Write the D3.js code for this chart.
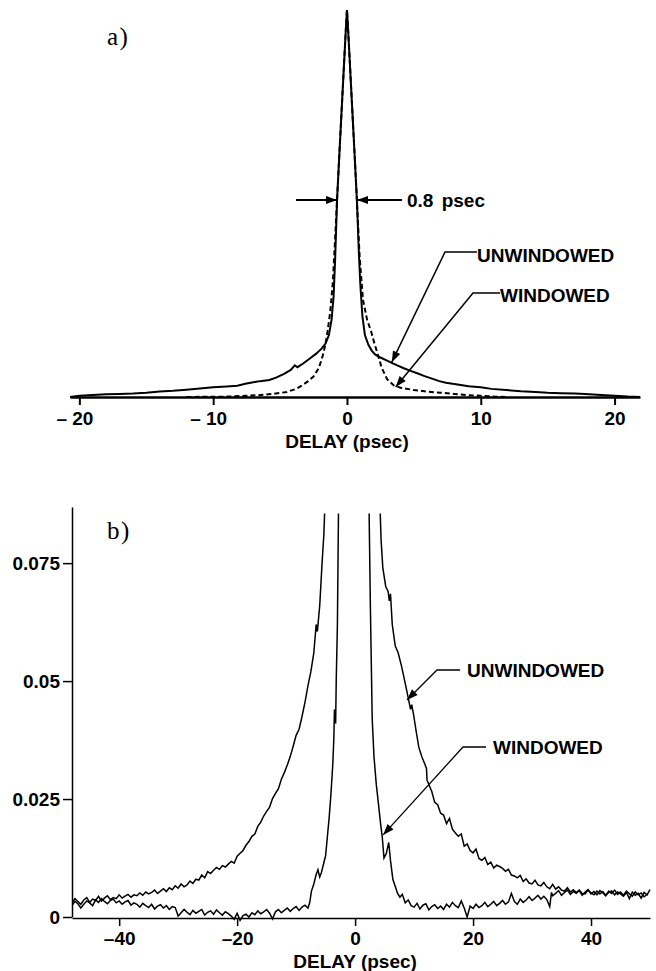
<!DOCTYPE html>
<html>
<head>
<meta charset="utf-8">
<script src="https://cdn.jsdelivr.net/npm/d3@7"></script>
<style>
  body { margin: 0; background: #fff; }
  text { font-family: "Liberation Sans", Arial, sans-serif; font-weight: bold; fill: #000; }
  .panel-label { font-family: "Liberation Serif", "Times New Roman", serif; font-weight: normal; font-size: 25px; letter-spacing: 1.5px; }
</style>
</head>
<body>
<div id="chart"></div>
<script>
// ---- panel a) : normalised correlation vs delay (psec)
const topUnwX = [-20.7, -20, -19, -18, -17, -16, -15, -14, -13, -12, -11, -10, -9, -8.2, -7.6, -7.2, -6.5, -5.8, -5.3, -4.7, -4.2, -3.9, -3.7, -3.3, -2.8, -2.3, -1.9, -1.6, -1.35, -1.15, -1.0, -0.88, -0.74, -0.55, -0.4, -0.25, -0.1, 0,
  0.1, 0.25, 0.4, 0.55, 0.74, 0.88, 1.0, 1.15, 1.34, 1.6, 1.85, 2.1, 2.5, 3.0, 3.3, 3.8, 4.2, 4.7, 5.2, 5.8, 6.3, 6.9, 7.4, 7.9, 8.5, 9.1, 10, 10.8, 11.9, 13, 14.1, 15, 16, 17, 17.8, 19, 20, 21, 21.9];
const topUnwY = [0, 0.003, 0.005, 0.007, 0.008, 0.009, 0.011, 0.014, 0.016, 0.019, 0.022, 0.025, 0.027, 0.029, 0.034, 0.037, 0.041, 0.044, 0.050, 0.060, 0.070, 0.082, 0.077, 0.086, 0.099, 0.112, 0.125, 0.138, 0.16, 0.2, 0.26, 0.36, 0.51, 0.64, 0.74, 0.84, 0.94, 1,
  0.94, 0.84, 0.74, 0.64, 0.51, 0.38, 0.29, 0.21, 0.16, 0.135, 0.12, 0.11, 0.102, 0.094, 0.089, 0.081, 0.075, 0.068, 0.062, 0.054, 0.048, 0.041, 0.037, 0.034, 0.031, 0.028, 0.025, 0.021, 0.018, 0.015, 0.013, 0.011, 0.010, 0.009, 0.008, 0.005, 0.003, 0.001, 0];

const topWinX = [-12, -9, -7.5, -6.5, -5.5, -4.5, -3.8, -3.3, -2.9, -2.5, -2.1, -1.8, -1.6, -1.45, -1.25, -1.05, -0.9, -0.74, -0.55, -0.4, -0.25, -0.1, 0,
  0.1, 0.25, 0.4, 0.55, 0.74, 0.95, 1.2, 1.5, 1.8, 2.0, 2.3, 2.6, 3.0, 3.5, 4.0, 5.0, 6.0, 7.0, 8.0, 9.0, 10, 11, 12];
const topWinY = [0, 0.001, 0.003, 0.005, 0.008, 0.013, 0.021, 0.031, 0.041, 0.053, 0.075, 0.108, 0.138, 0.17, 0.22, 0.30, 0.40, 0.51, 0.64, 0.74, 0.84, 0.94, 1,
  0.94, 0.84, 0.74, 0.64, 0.51, 0.36, 0.25, 0.2, 0.17, 0.145, 0.11, 0.075, 0.046, 0.03, 0.024, 0.018, 0.014, 0.011, 0.008, 0.005, 0.003, 0.001, 0];

const topTicks = [-20, -10, 0, 10, 20];
const topTickLabels = ["\u2013 20", "\u2013 10", "0", "10", "20"];

// ---- panel b) : enlarged wings
const botUnwX = [-48, -47.5, -47, -46.5, -46, -45.5, -45, -44.5, -44, -43.5, -43, -42.5, -42, -41.5, -41, -40.5, -40, -39.5, -39, -38.5, -38, -37.5, -37, -36.5, -36, -35.5, -35, -34.5, -34, -33.5, -33, -32.5, -32, -31.5, -31, -30.5, -30, -29.5, -29, -28.5, -28, -27.5, -27, -26.5, -26, -25.5, -25, -24.5, -24, -23.5, -23, -22.5, -22, -21.5, -21, -20.5, -20, -19.5, -19, -18.5, -18, -17.5, -17, -16.5, -16, -15.5, -15, -14.5, -14, -13.5, -13, -12.5, -12, -11.5, -11, -10.5, -10, -9.5, -9, -8.5, -8, -7.5, -7, -6.6, -6.4, -6, -5.6, -5.3, -5.1,
  4.2, 4.4, 4.7, 5.2, 5.6, 5.8, 6.0, 6.3, 6.8, 7.3, 7.9, 8.5, 9.0, 9.4, 9.6, 9.9, 10.4, 10.8, 11.3, 11.8, 12.1, 12.2, 12.6, 13, 13.5, 14, 14.5, 15, 15.5, 16, 16.5, 17, 17.5, 18, 18.5, 19, 19.5, 20, 20.5, 21, 21.5, 22, 22.5, 23, 23.5, 24, 24.5, 25, 25.5, 26, 26.5, 27, 27.5, 28, 28.5, 29, 29.5, 30, 30.5, 31, 31.5, 32, 32.5, 33, 33.5, 34, 34.5, 35, 35.5, 36, 36.5, 37, 37.5, 38, 38.5, 39, 39.5, 40, 40.5, 41, 41.5, 42, 42.5, 43, 43.5, 44, 44.5, 45, 45.5, 46, 46.5, 47, 47.5, 48, 48.5, 49, 49.5, 50];
const botUnwY = [0.0030, 0.0039, 0.0033, 0.0027, 0.0036, 0.0041, 0.0031, 0.0038, 0.0035, 0.0044, 0.0034, 0.0040, 0.0045, 0.0037, 0.0041, 0.0039, 0.0047, 0.0040, 0.0044, 0.0048, 0.0042, 0.0047, 0.0045, 0.0051, 0.0046, 0.0053, 0.0049, 0.0052, 0.0057, 0.0050, 0.0055, 0.0060, 0.0054, 0.0062, 0.0058, 0.0066, 0.0061, 0.0070, 0.0064, 0.0068, 0.0076, 0.0071, 0.0080, 0.0078, 0.0089, 0.0083, 0.0096, 0.0092, 0.0099, 0.0105, 0.0101, 0.0109, 0.0106, 0.0112, 0.0118, 0.0114, 0.0129, 0.0135, 0.0141, 0.0152, 0.0160, 0.0171, 0.0176, 0.0192, 0.0201, 0.0214, 0.0224, 0.0233, 0.0251, 0.0262, 0.0272, 0.0292, 0.0306, 0.0322, 0.0340, 0.0362, 0.0385, 0.0398, 0.0425, 0.0455, 0.0490, 0.0520, 0.0560, 0.0620, 0.0605, 0.0660, 0.0750, 0.0810, 0.0880,
  0.0880, 0.0800, 0.0740, 0.0700, 0.0690, 0.0670, 0.0685, 0.0620, 0.0575, 0.0560, 0.0530, 0.0495, 0.0465, 0.0440, 0.0450, 0.0430, 0.0390, 0.0360, 0.0340, 0.0325, 0.0315, 0.0290, 0.0278, 0.0266, 0.0243, 0.0238, 0.0220, 0.0216, 0.0198, 0.0209, 0.0186, 0.0178, 0.0171, 0.0176, 0.0150, 0.0155, 0.0141, 0.0136, 0.0144, 0.0124, 0.0120, 0.0126, 0.0111, 0.0116, 0.0104, 0.0110, 0.0107, 0.0103, 0.0097, 0.0101, 0.0089, 0.0087, 0.0083, 0.0088, 0.0075, 0.0081, 0.0072, 0.0070, 0.0078, 0.0068, 0.0066, 0.0073, 0.0064, 0.0060, 0.0069, 0.0059, 0.0064, 0.0057, 0.0055, 0.0062, 0.0053, 0.0058, 0.0052, 0.0057, 0.0050, 0.0049, 0.0057, 0.0051, 0.0047, 0.0055, 0.0049, 0.0054, 0.0046, 0.0052, 0.0055, 0.0047, 0.0053, 0.0049, 0.0044, 0.0052, 0.0039, 0.0053, 0.0046, 0.0050, 0.0040, 0.0052, 0.0047, 0.0058];

const botWinX = [-48, -47.5, -47, -46.5, -46, -45.5, -45, -44.5, -44, -43.5, -43, -42.5, -42, -41.5, -41, -40.5, -40, -39.5, -39, -38.5, -38, -37.5, -37, -36.5, -36, -35.5, -35, -34.5, -34, -33.5, -33, -32.5, -32, -31.5, -31, -30.5, -30, -29.5, -29, -28.5, -28, -27.5, -27, -26.5, -26, -25.5, -25, -24.5, -24, -23.5, -23, -22.5, -22, -21.5, -21, -20.5, -20, -19.5, -19, -18.5, -18, -17.5, -17, -16.5, -16, -15.5, -15, -14.5, -14, -13.5, -13, -12.5, -12, -11.5, -11, -10.5, -10, -9.5, -9, -8.5, -8, -7.7, -7.4, -7.0, -6.6, -6.3, -6.0, -5.7, -5.3, -5.0, -4.7, -4.4, -4.1, -3.8, -3.6, -3.5, -3.4, -3.3, -3.2, -3.0, -2.9, -2.8,
  2.35, 2.6, 2.9, 3.2, 3.6, 4.0, 4.3, 4.6, 4.9, 5.3, 5.7, 6.0, 6.4, 6.8, 7.2, 7.6, 8.0, 8.5, 9.0, 9.5, 10, 10.5, 11, 11.5, 12, 12.5, 13, 13.5, 14, 14.5, 15, 15.5, 16, 16.5, 17, 17.5, 18, 18.5, 19, 19.5, 20, 20.5, 21, 21.5, 22, 22.5, 23, 23.5, 24, 24.5, 25, 25.5, 26, 26.5, 27, 27.5, 28, 28.5, 29, 29.5, 30, 30.5, 31, 31.5, 32, 32.5, 33, 33.3, 33.5, 34, 34.5, 35, 35.5, 36, 36.5, 37, 37.5, 38, 38.5, 39, 39.5, 40, 40.5, 41, 41.5, 42, 42.5, 43, 43.5, 44, 44.5, 45, 45.5, 46, 46.5, 47, 47.5, 48, 48.5, 49, 49.5];
const botWinY = [0.0024, 0.0033, 0.0028, 0.0019, 0.0027, 0.0034, 0.0030, 0.0024, 0.0036, 0.0031, 0.0039, 0.0033, 0.0028, 0.0035, 0.0038, 0.0030, 0.0034, 0.0027, 0.0032, 0.0035, 0.0025, 0.0030, 0.0027, 0.0021, 0.0029, 0.0024, 0.0020, 0.0027, 0.0017, 0.0023, 0.0026, 0.0019, 0.0024, 0.0016, 0.0022, 0.0020, 0.0002, 0.0009, 0.0016, 0.0010, 0.0005, 0.0014, 0.0008, 0.0012, 0.0016, 0.0004, 0.0010, 0.0013, 0.0006, 0.0015, 0.0009, 0.0004, 0.0011, 0.0007, 0.0002, -0.0005, 0.0008, -0.0007, 0.0003, 0.0006, 0.0000, 0.0009, 0.0005, 0.0013, 0.0007, 0.0011, 0.0016, 0.0008, -0.0004, 0.0011, 0.0016, 0.0009, 0.0014, 0.0019, 0.0012, 0.0018, 0.0022, 0.0014, 0.0021, 0.0025, 0.0019, 0.0030, 0.0055, 0.0070, 0.0090, 0.0100, 0.0085, 0.0095, 0.0115, 0.0130, 0.0170, 0.0210, 0.0260, 0.0320, 0.0380, 0.0440, 0.0425, 0.0410, 0.0500, 0.0620, 0.0750, 0.0880,
  0.0880, 0.0650, 0.0420, 0.0340, 0.0280, 0.0235, 0.0200, 0.0170, 0.0125, 0.0135, 0.0158, 0.0120, 0.0080, 0.0065, 0.0050, 0.0042, 0.0048, 0.0030, 0.0036, 0.0024, 0.0021, 0.0029, 0.0017, 0.0025, 0.0028, 0.0015, 0.0022, 0.0026, 0.0018, 0.0023, 0.0016, 0.0027, 0.0021, 0.0031, 0.0024, 0.0020, 0.0034, 0.0019, 0.0000, 0.0023, 0.0018, 0.0027, 0.0020, 0.0024, 0.0031, 0.0022, 0.0027, 0.0033, 0.0024, 0.0029, 0.0035, 0.0027, 0.0032, 0.0050, 0.0033, 0.0027, 0.0038, 0.0031, 0.0036, 0.0043, 0.0035, 0.0040, 0.0046, 0.0038, 0.0044, 0.0037, 0.0022, 0.0052, 0.0045, 0.0050, 0.0056, 0.0046, 0.0052, 0.0057, 0.0048, 0.0054, 0.0050, 0.0056, 0.0046, 0.0053, 0.0058, 0.0049, 0.0054, 0.0047, 0.0056, 0.0051, 0.0045, 0.0055, 0.0050, 0.0057, 0.0048, 0.0053, 0.0046, 0.0055, 0.0049, 0.0044, 0.0053, 0.0047, 0.0051, 0.0043, 0.0048];

const botXTicks = [-40, -20, 0, 20, 40];
const botXTickLabels = ["\u201340", "\u201320", "0", "20", "40"];
const botYTicks = [0, 0.025, 0.05, 0.075];
const botYTickLabels = ["0", "0.025", "0.05", "0.075"];

const width = 656;
const height = 971;
const fs = 19;

const svg = d3.select("#chart").append("svg")
    .attr("width", width)
    .attr("height", height);

const line = (x, y) => d3.line().x(d => x(d[0])).y(d => y(d[1]));

function arrowHead(g, x1, y1, x2, y2, len, half) {
    // filled triangle with its tip at (x2, y2)
    const a = Math.atan2(y2 - y1, x2 - x1);
    const bx = x2 - len * Math.cos(a), by = y2 - len * Math.sin(a);
    const px = -Math.sin(a) * half, py = Math.cos(a) * half;
    g.append("path")
        .attr("d", `M${x2},${y2}L${bx + px},${by + py}L${bx - px},${by - py}Z`)
        .attr("fill", "#000");
}

function leader(g, pts, sw) {
    g.append("path")
        .attr("d", d3.line()(pts))
        .attr("fill", "none").attr("stroke", "#000").attr("stroke-width", sw);
    const n = pts.length;
    arrowHead(g, pts[n - 2][0], pts[n - 2][1], pts[n - 1][0], pts[n - 1][1], 11, 4);
}

// ================= panel a =================
const xA = d3.scaleLinear().domain([-20.7, 21.9]).range([70, 640]);
const yA = d3.scaleLinear().domain([0, 1]).range([397, 10]);

const gA = svg.append("g");

gA.append("path")
    .datum(topWinX.map((d, i) => [d, topWinY[i]]))
    .attr("d", line(xA, yA))
    .attr("fill", "none")
    .attr("stroke", "#000")
    .attr("stroke-width", 2)
    .attr("stroke-dasharray", "5,3");

gA.append("path")
    .datum(topUnwX.map((d, i) => [d, topUnwY[i]]))
    .attr("d", line(xA, yA))
    .attr("fill", "none")
    .attr("stroke", "#000")
    .attr("stroke-width", 2);

const axA = gA.append("g")
    .attr("transform", `translate(0,${yA(0)})`)
    .call(d3.axisBottom(xA).tickValues(topTicks).tickSize(8).tickSizeOuter(0)
        .tickFormat((d, i) => topTickLabels[i]));
axA.select(".domain").attr("stroke-width", 2.5);
axA.selectAll(".tick line").attr("stroke-width", 2);
axA.selectAll(".tick text")
    .attr("font-size", fs).attr("y", 15)
    .attr("dx", d => d < 0 ? -5 : 0);
axA.attr("font-family", null);

gA.append("text")
    .attr("x", xA(0)).attr("y", 448)
    .attr("text-anchor", "middle")
    .attr("font-size", fs)
    .text("DELAY (psec)");

gA.append("text").attr("class", "panel-label")
    .attr("x", 107).attr("y", 45).text("a)");

// FWHM arrows
const fwhmY = 200;
leader(gA, [[296, fwhmY], [337, fwhmY]], 2);
leader(gA, [[402, fwhmY], [357, fwhmY]], 2);
gA.append("text")
    .attr("x", 407).attr("y", fwhmY + 7)
    .attr("font-size", fs).attr("word-spacing", 3)
    .text("0.8 psec");

// series labels, panel a
leader(gA, [[477, 252], [445, 252], [xA(3.35), yA(0.09)]], 1.5);
gA.append("text").attr("x", 477).attr("y", 262).attr("font-size", fs).text("UNWINDOWED");
leader(gA, [[500, 293], [473, 293], [xA(3.64), yA(0.026)]], 1.5);
gA.append("text").attr("x", 500).attr("y", 302).attr("font-size", fs).text("WINDOWED");

// ================= panel b =================
const xB = d3.scaleLinear().domain([-48, 50]).range([72, 650]);
const yB = d3.scaleLinear().domain([0, 0.0869]).range([917, 507]);

const gB = svg.append("g");

gB.append("clipPath").attr("id", "clipB")
    .append("rect")
    .attr("x", xB(-48)).attr("y", yB(0.0855))
    .attr("width", xB(50) - xB(-48) + 6)
    .attr("height", yB(-0.002) - yB(0.0855));

const plotB = gB.append("g").attr("clip-path", "url(#clipB)");

plotB.append("path")
    .datum(botWinX.map((d, i) => [d, botWinY[i]]))
    .attr("d", line(xB, yB))
    .attr("fill", "none").attr("stroke", "#000").attr("stroke-width", 1.5);

plotB.append("path")
    .datum(botUnwX.map((d, i) => [d, botUnwY[i]]))
    .attr("d", line(xB, yB))
    .attr("fill", "none").attr("stroke", "#000").attr("stroke-width", 1.5);

const axBx = gB.append("g")
    .attr("transform", `translate(0,${yB(0) + 1})`)
    .call(d3.axisBottom(xB).tickValues(botXTicks).tickSize(8).tickSizeOuter(0)
        .tickFormat((d, i) => botXTickLabels[i]));
axBx.select(".domain").attr("stroke-width", 1.5);
axBx.selectAll(".tick line").attr("stroke-width", 1.5);
axBx.selectAll(".tick text").attr("font-size", fs).attr("y", 14);
axBx.attr("font-family", null);

const axBy = gB.append("g")
    .attr("transform", `translate(${xB(-48)},0)`)
    .call(d3.axisLeft(yB).tickValues(botYTicks).tickSize(9).tickSizeOuter(0)
        .tickFormat((d, i) => botYTickLabels[i]));
axBy.select(".domain").attr("stroke-width", 1.5);
axBy.selectAll(".tick line").attr("stroke-width", 1.5);
axBy.selectAll(".tick text").attr("font-size", fs).attr("x", -12);
axBy.attr("font-family", null);

gB.append("text")
    .attr("x", xB(0)).attr("y", 968)
    .attr("text-anchor", "middle")
    .attr("font-size", fs)
    .text("DELAY (psec)");

gB.append("text").attr("class", "panel-label")
    .attr("x", 107).attr("y", 539).text("b)");

leader(gB, [[460, 670], [437, 670], [xB(8.8), yB(0.046)]], 1.3);
gB.append("text").attr("x", 467).attr("y", 677).attr("font-size", fs).text("UNWINDOWED");
leader(gB, [[486, 747], [463, 747], [xB(4.75), yB(0.0174)]], 1.3);
gB.append("text").attr("x", 493).attr("y", 754).attr("font-size", fs).text("WINDOWED");
</script>
</body>
</html>
